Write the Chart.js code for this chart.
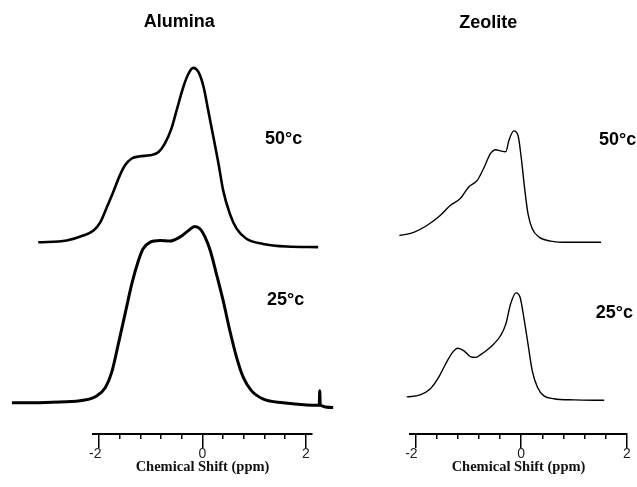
<!DOCTYPE html>
<html>
<head>
<meta charset="utf-8">
<script src="https://cdn.jsdelivr.net/npm/chart.js@4.4.1/dist/chart.umd.min.js"></script>
<style>
  html, body { margin: 0; padding: 0; background: #fff; }
  #wrap { position: relative; width: 637px; height: 487px; overflow: hidden; }
  canvas { position: absolute; top: 0; }
  #alumina { left: 0; }
  #zeolite { left: 360px; }
</style>
</head>
<body>
<div id="wrap">
  <canvas id="alumina" width="358" height="487"></canvas>
  <canvas id="zeolite" width="277" height="487"></canvas>
</div>
<script>
// chemical shift (ppm) and relative intensity
const aluminaShift50 = [-3.18, -2.63, -2.31, -2.11, -1.98, -1.85, -1.73, -1.60, -1.50, -1.37, -1.21, -1.02, -0.85, -0.73, -0.60, -0.50, -0.37, -0.27, -0.18, -0.08, 0.02, 0.11, 0.21, 0.31, 0.40, 0.53, 0.66, 0.85, 1.17, 1.63, 2.24];
const aluminaInt50 = [1.8, 2.25, 3.5, 4.75, 6.8, 10.6, 14.3, 18.5, 21, 22.7, 23.25, 23.5, 24.3, 26.4, 30.2, 34.75, 40.6, 43.9, 45.3, 44.3, 40.6, 34.75, 28.1, 21.4, 14.75, 8.9, 5.2, 2.7, 1.4, 0.75, 0.6];

const aluminaShift25 = [-3.69, -3.27, -2.76, -2.31, -2.05, -1.88, -1.76, -1.63, -1.50, -1.37, -1.24, -1.15, -1.02, -0.82, -0.63, -0.44, -0.27, -0.15, -0.05, 0.05, 0.15, 0.27, 0.40, 0.53, 0.66, 0.79, 0.95, 1.18, 1.56, 2.02, 2.26, 2.27, 2.28, 2.53];
const aluminaInt25 = [0.8, 0.8, 1.0, 1.4, 2.5, 4.6, 8.3, 15.4, 22.9, 30.4, 36.25, 39.2, 40.8, 41.25, 41.1, 42.1, 43.75, 44.75, 44.2, 42.1, 38.75, 32.9, 26.25, 18.75, 12.1, 7.1, 3.75, 1.7, 0.8, 0.25, 0.2, 3.8, 0.2, -0.4];

const zeoliteShift50 = [-2.30, -2.03, -1.78, -1.53, -1.34, -1.15, -0.99, -0.83, -0.71, -0.58, -0.48, -0.39, -0.29, -0.23, -0.14, -0.06, 0.00, 0.07, 0.13, 0.21, 0.34, 0.56, 0.88, 1.51];
const zeoliteInt50 = [1.5, 2.3, 4, 6.5, 9, 10.7, 13.6, 15.25, 18.2, 21.9, 22.9, 22.6, 22.4, 25.25, 27.6, 26.5, 21.1, 12.75, 6.9, 3.2, 1.1, 0.1, -0.2, -0.2];

const zeoliteShift25 = [-2.16, -1.91, -1.72, -1.56, -1.43, -1.30, -1.20, -1.08, -0.96, -0.86, -0.77, -0.65, -0.52, -0.39, -0.29, -0.20, -0.10, -0.02, 0.05, 0.13, 0.21, 0.31, 0.43, 0.62, 1.00, 1.57];
const zeoliteInt25 = [1.25, 1.75, 3.2, 6.1, 9.4, 12.3, 13.4, 12.75, 11.3, 11.1, 11.75, 12.9, 14.4, 16.5, 19.4, 24.4, 27.2, 26.1, 21.1, 14.4, 7.75, 3.6, 1.5, 0.8, 0.5, 0.4];

const majorTicks = [-2, 0, 2];
const minorTicks = [-2, -1.6, -1.2, -0.8, -0.4, 0, 0.4, 0.8, 1.2, 1.6, 2];
const temps = ["50°c", "25°c"];
const panelNames = ["Alumina", "Zeolite"];

function toPoints(shift, intensity, offset) {
  return shift.map((s, i) => ({ x: s, y: intensity[i] + offset }));
}

// draws panel title and temperature labels at data coordinates
const panelText = {
  id: "panelText",
  afterDraw(chart, args, opts) {
    const { ctx } = chart;
    const xs = chart.scales.x, ys = chart.scales.y;
    ctx.save();
    ctx.fillStyle = "#000";
    ctx.textBaseline = "middle";
    opts.items.forEach((t) => {
      ctx.font = "bold 18px 'Liberation Sans', Arial, sans-serif";
      ctx.textAlign = t.align;
      ctx.fillText(t.text, xs.getPixelForValue(t.x), ys.getPixelForValue(t.y));
    });
    ctx.restore();
  },
};

function makePanel(id, sets, xMin, xMax, pad, items) {
  // range set after data limits so lines running past the axis are still drawn
  const setRange = (s) => { s.min = xMin; s.max = xMax; };
  return new Chart(document.getElementById(id), {
    type: "line",
    data: {
      datasets: sets.map((s) => ({
        data: s.points,
        borderColor: "#000",
        borderWidth: s.width,
        pointRadius: 0,
        cubicInterpolationMode: "monotone",
        fill: false,
        clip: false,
      })),
    },
    options: {
      responsive: false,
      animation: false,
      devicePixelRatio: 1,
      layout: { padding: pad },
      plugins: {
        legend: { display: false },
        tooltip: { enabled: false },
        panelText: { items: items },
      },
      scales: {
        x: {
          type: "linear",
          bounds: "data",
          weight: 0,
          afterDataLimits: setRange,
          afterBuildTicks: (s) => { s.ticks = minorTicks.map((v) => ({ value: v })); },
          ticks: { display: false },
          grid: { drawOnChartArea: false, tickLength: 5, color: "#000", lineWidth: 1.5 },
          border: { display: true, color: "#000", width: 2 },
        },
        x2: {
          type: "linear",
          position: "bottom",
          axis: "x",
          bounds: "data",
          weight: 1,
          afterDataLimits: setRange,
          afterBuildTicks: (s) => { s.ticks = majorTicks.map((v) => ({ value: v })); },
          ticks: {
            color: "#222",
            padding: -1,
            maxRotation: 0,
            font: { family: "'Liberation Sans', Arial, sans-serif", size: 14, lineHeight: 1.0 },
            callback: (v) => (v === -2 ? "-2  " : String(v)),
          },
          grid: { drawOnChartArea: false, tickLength: 9, color: "#000", lineWidth: 1.5 },
          border: { display: false },
          title: {
            display: true,
            text: "Chemical Shift (ppm)",
            color: "#111",
            padding: { top: 0, bottom: 0 },
            font: { family: "'Liberation Serif', 'Times New Roman', serif", size: 14.5, weight: "bold", lineHeight: 1.0 },
          },
        },
        y: { display: false, min: 0, max: 100 },
      },
    },
    plugins: [panelText],
  });
}

document.addEventListener("DOMContentLoaded", function () {
  // Alumina panel
  makePanel(
    "alumina",
    [
      { points: toPoints(aluminaShift50, aluminaInt50, 46), width: 2.6 },
      { points: toPoints(aluminaShift25, aluminaInt25, 7), width: 3 },
    ],
    -2.12, 2.12,
    { top: 33, left: 93, right: 46, bottom: 12.5 },
    [
      { text: panelNames[0], x: -0.45, y: 102.7, align: "center" },
      { text: temps[0], x: 1.21, y: 73.5, align: "left" },
      { text: temps[1], x: 1.25, y: 33.5, align: "left" },
    ]
  );

  // Zeolite panel
  makePanel(
    "zeolite",
    [
      { points: toPoints(zeoliteShift50, zeoliteInt50, 48), width: 1.4 },
      { points: toPoints(zeoliteShift25, zeoliteInt25, 8), width: 1.4 },
    ],
    -2.1, 2.0,
    { top: 33, left: 50, right: 10, bottom: 12.5 },
    [
      { text: panelNames[1], x: -0.62, y: 102.5, align: "center" },
      { text: temps[0], x: 1.47, y: 73.25, align: "left" },
      { text: temps[1], x: 1.41, y: 30.25, align: "left" },
    ]
  );
});
</script>
</body>
</html>
